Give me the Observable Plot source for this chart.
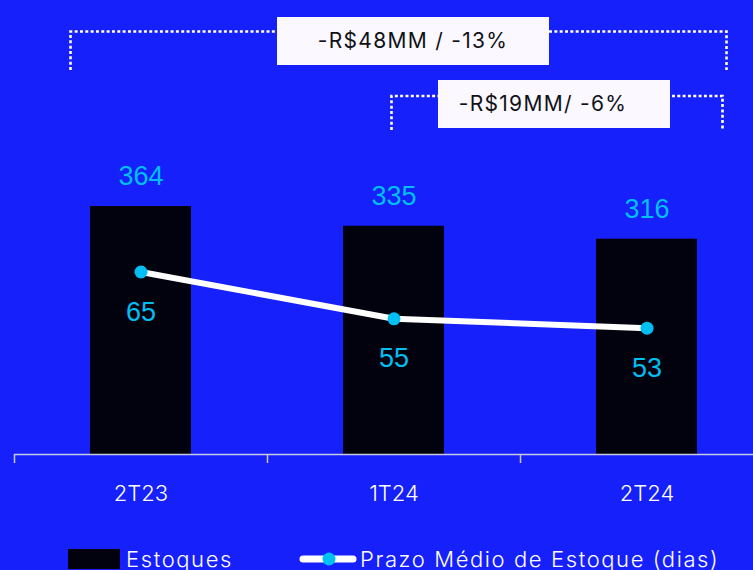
<!DOCTYPE html>
<html>
<head>
<meta charset="utf-8">
<script src="https://cdn.jsdelivr.net/npm/d3@7"></script>
<script src="https://cdn.jsdelivr.net/npm/@observablehq/plot@0.6"></script>
<style>
  html, body { margin: 0; padding: 0; background: #1620FB; overflow: hidden; }
  #wrap { position: relative; width: 753px; height: 570px; overflow: hidden; background: #1620FB; }
  #legend { position: relative; width: 753px; height: 25px; font-family: Inter, "Open Sans", sans-serif; font-weight: 300; letter-spacing: 1.6px; color: #fff; font-size: 22px; line-height: 20px; }
  #legend .item { position: absolute; top: 4px; display: flex; align-items: center; white-space: nowrap; }
</style>
</head>
<body>
<div id="wrap"></div>
<script>
// ---- data ----
const categories = ["2T23", "1T24", "2T24"];
const estoques = [364, 335, 316];
const prazoMedio = [65, 55, 53];
const seriesNames = ["Estoques", "Prazo Médio de Estoque (dias)"];
const annoLabels = ["-R$48MM / -13%", "-R$19MM/ -6%"];
const annoFrom = ["2T23", "1T24"];
const annoTo = ["2T24", "2T24"];
// secondary axis domain for the line (days)
const prazoDomain = [26, 79];
const estoqueDomain = [0, 364];

const BAR = "#02020E", CYAN = "#00BFF2", WHITE = "#ffffff";
const POP = "Inter, 'Open Sans', sans-serif";
const NUM = "'Liberation Sans', Arial, sans-serif";

const data = categories.map((q, i) => ({q, est: estoques[i], prazo: prazoMedio[i]}));
const toPrimary = v => (v - prazoDomain[0]) / (prazoDomain[1] - prazoDomain[0]) * (estoqueDomain[1] - estoqueDomain[0]) + estoqueDomain[0];

const step = (773 - 14) / categories.length;
const tickLen = 9 * (estoqueDomain[1] - estoqueDomain[0]) / (454 - 206);

const plot = Plot.plot({
  width: 753,
  height: 545,
  marginLeft: 14,
  marginRight: 0,
  marginTop: 0,
  marginBottom: 91,
  style: {background: "transparent", color: WHITE, fontFamily: POP, overflow: "visible"},
  x: {domain: categories, range: [14, 773], padding: 0, axis: null},
  y: {domain: estoqueDomain, range: [454, 206], axis: null},
  marks: [
    Plot.barY(data, {x: "q", y: "est", fill: BAR, insetLeft: 76, insetRight: 76}),
    Plot.ruleY([0], {stroke: "#c8cae4", strokeWidth: 1.5}),
    Plot.ruleX(categories, {x: d => d, dx: -step / 2, y1: 0, y2: -tickLen, stroke: "#c8cae4", strokeWidth: 1.5}),
    Plot.text(categories, {x: d => d, y: 0, dy: 39, text: d => d, fill: WHITE, fontSize: 22, fontFamily: POP, fontWeight: 300}),
    Plot.text(data, {x: "q", y: "est", text: d => String(d.est), dy: -30, fill: CYAN, fontSize: 27, fontFamily: NUM}),
    Plot.line(data, {x: "q", y: d => toPrimary(d.prazo), stroke: WHITE, strokeWidth: 6, strokeLinecap: "round"}),
    Plot.dot(data, {x: "q", y: d => toPrimary(d.prazo), r: 6.5, fill: CYAN, stroke: "none"}),
    Plot.text(data, {x: "q", y: d => toPrimary(d.prazo), text: d => String(d.prazo), dy: 40, fill: CYAN, fontSize: 27, fontFamily: NUM})
  ]
});

// ---- annotations (brackets with labels) ----
const xs = plot.scale("x");
const center = c => xs.apply(c) + xs.bandwidth / 2;
const svg = d3.select(plot);
const annoLayout = [
  {left: -70, right: 80, top: 31.5, bottom: 70, boxX: 277, boxW: 272, boxY: 17, textX: 413},
  {left: -2, right: 76, top: 96, bottom: 130, boxX: 438, boxW: 232, boxY: 80, textX: 543}
];
annoLabels.forEach((label, i) => {
  const L = annoLayout[i];
  const x1 = center(annoFrom[i]) + L.left;
  const x2 = center(annoTo[i]) + L.right;
  const g = svg.append("g");
  g.append("path")
    .attr("d", `M${x1},${L.bottom}V${L.top}H${x2}V${L.bottom}`)
    .attr("fill", "none").attr("stroke", WHITE).attr("stroke-width", 2.6)
    .attr("stroke-dasharray", "3 2.33");
  g.append("rect").attr("x", L.boxX).attr("y", L.boxY).attr("width", L.boxW).attr("height", 48).attr("fill", "#FBF9FF");
  g.append("text").attr("x", L.textX).attr("y", L.boxY + 25).attr("text-anchor", "middle")
    .attr("dominant-baseline", "middle").attr("fill", "#111118")
    .attr("font-size", 21).attr("font-weight", 400).attr("letter-spacing", 1.3)
    .attr("font-family", POP).text(label);
});

const wrap = document.getElementById("wrap");
wrap.appendChild(plot);

// ---- legend ----
const legend = document.createElement("div");
legend.id = "legend";
legend.innerHTML = `
  <div class="item" style="left:68px">
    <span style="display:inline-block;width:52px;height:20px;background:${BAR};margin-right:6px"></span>${seriesNames[0]}
  </div>
  <div class="item" style="left:298px">
    <svg width="60" height="20" style="margin-right:2px"><line x1="5" y1="10" x2="55" y2="10" stroke="${WHITE}" stroke-width="7" stroke-linecap="round"/><circle cx="31" cy="10" r="6.5" fill="${CYAN}"/></svg>${seriesNames[1]}
  </div>`;
wrap.appendChild(legend);
</script>
</body>
</html>
